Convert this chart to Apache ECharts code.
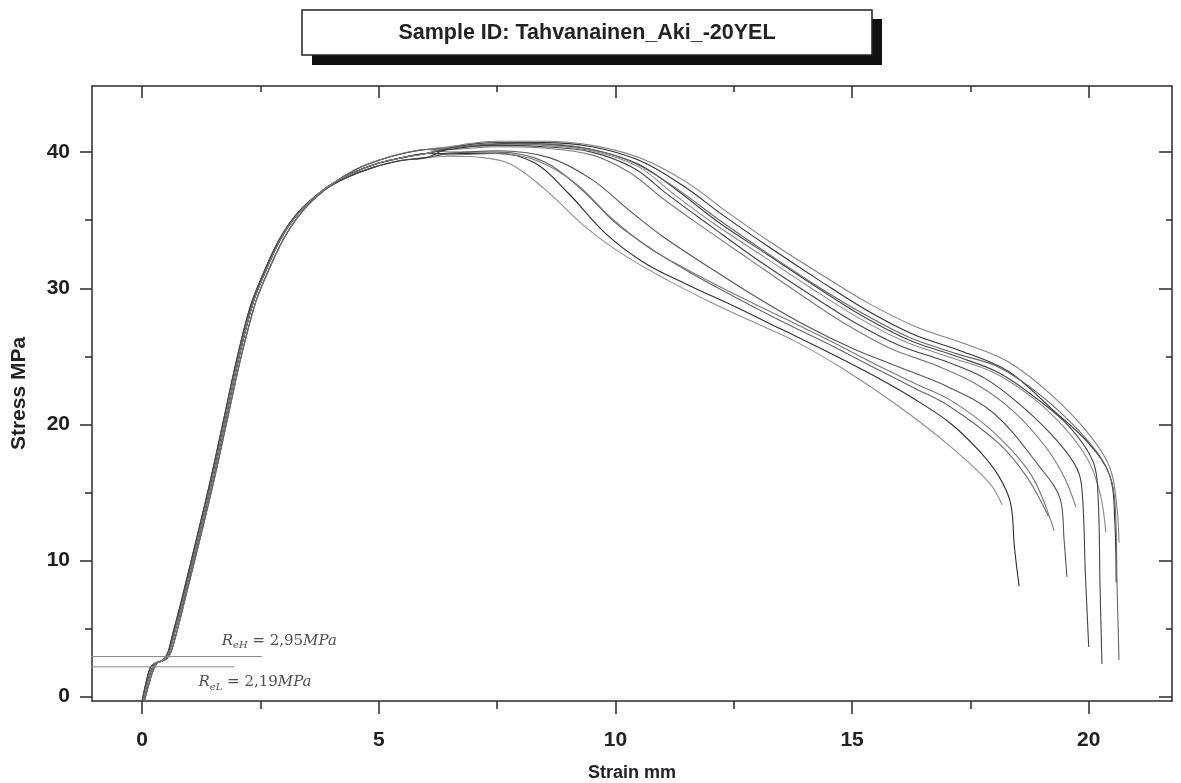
<!DOCTYPE html>
<html>
<head>
<meta charset="utf-8">
<style>
html, body { margin: 0; padding: 0; background: #fff; }
#chart { width: 1181px; height: 783px; }
</style>
<script src="https://cdn.jsdelivr.net/npm/echarts@6/dist/echarts.min.js"></script>
</head>
<body>
<div id="chart"></div>
<script>
// ticks and labels
const xMajor = [0, 5, 10, 15, 20]
const xMinor = [2.5, 7.5, 12.5, 17.5]
const yMajor = [0, 10, 20, 30, 40]
const yMinor = [5, 15, 25, 35]

// elastic part of the curves (three slightly shifted versions)
const riseA = [[0.02, -0.3], [0.1, 0.9], [0.2, 2.0], [0.28, 2.45], [0.4, 2.6], [0.5, 2.85], [0.58, 3.4], [0.7, 4.9], [0.86, 7.0], [1.2, 11.8], [1.5, 16.2], [1.8, 21.0], [2.05, 25.0], [2.34, 28.9], [2.6, 31.2], [2.97, 33.9], [3.4, 35.9], [3.9, 37.4], [4.4, 38.4], [5.0, 39.2], [5.5, 39.6], [6.0, 39.9]]
const riseB = [[0.05, -0.3], [0.14, 0.9], [0.24, 2.0], [0.33, 2.5], [0.45, 2.65], [0.55, 2.9], [0.63, 3.5], [0.75, 5.0], [0.9, 7.1], [1.25, 12.0], [1.55, 16.4], [1.85, 21.2], [2.1, 25.1], [2.4, 29.0], [2.68, 31.4], [3.05, 34.0], [3.5, 36.1], [4.0, 37.6], [4.5, 38.7], [5.0, 39.4], [5.5, 39.9], [6.0, 40.2]]
const riseC = [[0.0, -0.3], [0.08, 1.0], [0.17, 2.1], [0.25, 2.4], [0.36, 2.55], [0.47, 2.8], [0.55, 3.3], [0.66, 4.8], [0.82, 6.9], [1.15, 11.6], [1.45, 16.0], [1.75, 20.8], [2.0, 24.8], [2.28, 28.6], [2.55, 31.0], [2.9, 33.6], [3.3, 35.6], [3.8, 37.1], [4.3, 38.1], [4.9, 38.9], [5.5, 39.4], [6.0, 39.6]]

// necking / failure part of each specimen
const tailL1 = [[6.5, 39.7], [7.2, 39.6], [7.8, 39.1], [8.5, 37.3], [9.4, 34.4], [10.2, 32.4], [11.1, 30.6], [12.0, 29.0], [12.8, 27.7], [13.8, 26.1], [14.85, 24.0], [16.0, 21.3], [17.07, 18.4], [17.9, 15.7], [18.17, 14.1]]
const tailL2 = [[6.5, 39.9], [7.5, 39.9], [8.3, 39.2], [9.0, 37.0], [9.8, 34.0], [10.6, 31.9], [11.5, 30.3], [12.5, 28.7], [13.5, 27.0], [14.5, 25.3], [15.5, 23.5], [16.3, 21.9], [17.07, 20.1], [17.7, 18.0], [18.1, 16.2], [18.35, 14.2], [18.43, 11], [18.53, 8.1]]
const tailL3 = [[6.5, 40.0], [7.5, 40.0], [8.5, 39.3], [9.3, 37.2], [10.0, 34.8], [10.8, 32.8], [11.6, 31.1], [12.5, 29.4], [13.5, 27.6], [14.5, 25.9], [15.5, 24.1], [16.3, 22.7], [17.07, 21.3], [18.1, 18.6], [18.7, 16.1], [19.15, 13.25]]
const tailL4 = [[6.5, 39.8], [7.5, 39.9], [8.4, 39.3], [9.2, 37.6], [9.9, 35.2], [10.7, 33.0], [11.5, 31.4], [12.5, 29.6], [13.5, 27.9], [14.5, 26.2], [15.5, 24.4], [16.4, 22.9], [17.07, 21.8], [18.0, 19.4], [18.8, 16.2], [19.27, 12.2]]
const tailL5 = [[6.5, 39.9], [7.5, 40.1], [8.6, 39.6], [9.5, 38.0], [10.3, 35.7], [11.0, 33.8], [12.0, 31.5], [13.0, 29.3], [14.0, 27.3], [15.0, 25.6], [16.0, 24.2], [17.0, 22.8], [18.0, 20.8], [18.96, 16.9], [19.4, 14.5], [19.48, 11.5], [19.54, 8.8]]
const tailU1 = [[6.5, 40.2], [7.5, 40.4], [8.5, 40.3], [9.5, 39.8], [10.3, 38.5], [11.0, 36.6], [11.8, 34.6], [12.8, 32.2], [13.8, 29.8], [14.8, 27.5], [15.8, 25.6], [16.8, 24.3], [17.6, 23.0], [18.4, 21.0], [19.1, 18.3], [19.5, 16.0], [19.73, 13.9]]
const tailU2 = [[6.5, 40.3], [7.5, 40.5], [8.5, 40.4], [9.5, 40.0], [10.4, 38.8], [11.1, 36.9], [12.0, 34.6], [13.0, 32.1], [14.0, 29.8], [15.0, 27.6], [16.0, 25.8], [17.0, 24.6], [17.8, 23.4], [18.5, 21.6], [19.2, 19.3], [19.7, 17.1], [19.85, 15.5], [19.93, 9.0], [20.0, 3.65]]
const tailU3 = [[6.5, 40.4], [7.5, 40.6], [8.5, 40.5], [9.5, 40.1], [10.5, 38.9], [11.2, 37.0], [12.1, 34.7], [13.1, 32.4], [14.1, 30.1], [15.1, 27.9], [16.1, 26.1], [17.1, 24.9], [18.0, 23.8], [18.8, 22.0], [19.5, 19.7], [20.0, 17.3], [20.25, 14.8], [20.36, 12.1]]
const tailU4 = [[6.5, 40.3], [7.5, 40.7], [8.5, 40.6], [9.5, 40.2], [10.5, 39.1], [11.3, 37.2], [12.2, 34.8], [13.2, 32.5], [14.2, 30.2], [15.2, 28.0], [16.2, 26.2], [17.2, 25.0], [18.1, 23.8], [18.9, 21.9], [19.6, 19.8], [20.1, 17.2], [20.2, 14.5], [20.24, 8], [20.28, 2.4]]
const tailU5 = [[6.5, 40.2], [7.5, 40.6], [8.5, 40.7], [9.5, 40.4], [10.5, 39.4], [11.4, 37.6], [12.3, 35.3], [13.3, 32.9], [14.3, 30.6], [15.3, 28.4], [16.3, 26.6], [17.3, 25.4], [18.3, 23.9], [19.2, 21.2], [20.0, 18.6], [20.45, 16.2], [20.55, 13], [20.58, 8.4]]
const tailU6 = [[6.5, 40.3], [7.5, 40.6], [8.5, 40.6], [9.5, 40.2], [10.4, 39.2], [11.3, 37.3], [12.2, 35.0], [13.2, 32.6], [14.2, 30.3], [15.2, 28.2], [16.2, 26.4], [17.2, 25.2], [18.1, 24.2], [19.0, 22.1], [19.8, 19.5], [20.35, 17.0], [20.55, 14.5], [20.6, 8], [20.64, 2.7]]
const tailU7 = [[6.5, 40.4], [7.5, 40.8], [8.5, 40.8], [9.5, 40.5], [10.5, 39.6], [11.5, 37.8], [12.4, 35.5], [13.4, 33.1], [14.4, 30.9], [15.4, 28.8], [16.4, 27.1], [17.4, 25.9], [18.3, 24.6], [19.2, 22.2], [20.0, 19.3], [20.45, 16.8], [20.6, 13.8], [20.64, 11.3]]

// yield stresses
const reH = 2.95
const reL = 2.19
const reHSpan = [-1.36, 2.53]
const reLSpan = [-1.36, 1.94]

const curves = [
  { rise: riseC, tail: tailL1, color: '#8e8e8e' },
  { rise: riseA, tail: tailL2, color: '#2e2e2e' },
  { rise: riseB, tail: tailL3, color: '#666' },
  { rise: riseA, tail: tailL4, color: '#777' },
  { rise: riseC, tail: tailL5, color: '#555' },
  { rise: riseB, tail: tailU1, color: '#7a7a7a' },
  { rise: riseA, tail: tailU2, color: '#444' },
  { rise: riseB, tail: tailU3, color: '#888' },
  { rise: riseC, tail: tailU4, color: '#444' },
  { rise: riseA, tail: tailU5, color: '#333' },
  { rise: riseB, tail: tailU6, color: '#666' },
  { rise: riseA, tail: tailU7, color: '#808080' }
]

const chart = echarts.init(document.getElementById('chart'))

const xMin = -1.06, xMax = 21.76
const yMin = -0.32, yMax = 44.86
const axisColor = '#2a2a2a'
const labelFont = { fontFamily: 'Liberation Sans, Arial', fontWeight: 'bold', fontSize: 21, color: '#222' }

function tickAxis (pos, values, len, inside, showLine) {
  return {
    type: 'value',
    position: pos,
    min: pos === 'top' || pos === 'bottom' ? xMin : yMin,
    max: pos === 'top' || pos === 'bottom' ? xMax : yMax,
    axisLine: { show: !!showLine, onZero: false, lineStyle: { color: axisColor, width: 1.5 } },
    axisTick: { show: true, inside: inside, length: len, customValues: values, lineStyle: { color: axisColor, width: 1.5 } },
    axisLabel: { show: false },
    splitLine: { show: false }
  }
}

const lineSeries = curves.map(c => ({
  type: 'line',
  data: c.rise.concat(c.tail),
  symbol: 'none',
  smooth: 0.35,
  lineStyle: { color: c.color, width: 1.1 },
  silent: true
}))

chart.setOption({
  backgroundColor: '#fff',
  animation: false,
  grid: { left: 92, right: 9, top: 86, bottom: 82, containLabel: false, outerBoundsMode: 'none' },
  graphic: [
    { type: 'rect', shape: { x: 312, y: 19, width: 570, height: 46 }, style: { fill: '#111' } },
    { type: 'rect', shape: { x: 302, y: 10, width: 570, height: 45 }, style: { fill: '#fff', stroke: '#222', lineWidth: 1.5 } },
    {
      type: 'text', x: 587, y: 33,
      style: { text: 'Sample ID: Tahvanainen_Aki_-20YEL', fontFamily: 'Liberation Sans, Arial', fontWeight: 'bold', fontSize: 21.5, fill: '#222', align: 'center', verticalAlign: 'middle' }
    }
  ],
  xAxis: [
    {
      type: 'value', position: 'bottom', min: xMin, max: xMax,
      name: 'Strain mm', nameLocation: 'middle', nameGap: 63,
      nameTextStyle: { fontFamily: 'Liberation Sans, Arial', fontWeight: 'bold', fontSize: 18, color: '#222' },
      axisLine: { show: true, onZero: false, lineStyle: { color: axisColor, width: 1.5 } },
      axisTick: { show: true, length: 13, customValues: xMajor, lineStyle: { color: axisColor, width: 1.5 } },
      axisLabel: Object.assign({ customValues: xMajor, margin: 29 }, labelFont),
      splitLine: { show: false }
    },
    tickAxis('bottom', xMinor, 8, false),
    tickAxis('top', xMajor, 12, true, true),
    tickAxis('top', xMinor, 6, true)
  ],
  yAxis: [
    {
      type: 'value', position: 'left', min: yMin, max: yMax,
      name: 'Stress MPa', nameLocation: 'middle', nameGap: 62, nameRotate: 90,
      nameTextStyle: { fontFamily: 'Liberation Sans, Arial', fontWeight: 'bold', fontSize: 21, color: '#222' },
      axisLine: { show: true, onZero: false, lineStyle: { color: axisColor, width: 1.5 } },
      axisTick: { show: true, length: 12, customValues: yMajor, lineStyle: { color: axisColor, width: 1.5 } },
      axisLabel: Object.assign({ customValues: yMajor, margin: 22 }, labelFont),
      splitLine: { show: false }
    },
    tickAxis('left', yMinor, 7, false),
    tickAxis('right', yMajor, 13, true, true),
    tickAxis('right', yMinor, 6, true)
  ],
  series: lineSeries.concat([
    {
      type: 'line', data: [[reHSpan[0], reH], [reHSpan[1], reH]], symbol: 'none', clip: false,
      lineStyle: { color: '#8a8a8a', width: 1 }, silent: true
    },
    {
      type: 'line', data: [[reLSpan[0], reL], [reLSpan[1], reL]], symbol: 'none', clip: false,
      lineStyle: { color: '#8a8a8a', width: 1 }, silent: true
    },
    {
      type: 'scatter', symbolSize: 0, silent: true,
      data: [
        { value: [1.68, 4.1], label: { formatter: '{r|R}{s|eH}{n| = 2,95}{r|MPa}' } },
        { value: [1.19, 1.05], label: { formatter: '{r|R}{s|eL}{n| = 2,19}{r|MPa}' } }
      ],
      label: {
        show: true, position: 'right', distance: 0,
        rich: {
          r: { fontFamily: 'DejaVu Serif, Liberation Serif', fontStyle: 'italic', fontSize: 15, color: '#222', lineHeight: 20, verticalAlign: 'middle' },
          s: { fontFamily: 'DejaVu Serif, Liberation Serif', fontStyle: 'italic', fontSize: 10, color: '#222', lineHeight: 20, verticalAlign: 'bottom', padding: [7, 0, 0, 0] },
          n: { fontFamily: 'DejaVu Serif, Liberation Serif', fontSize: 15, color: '#222', lineHeight: 20, verticalAlign: 'middle' }
        }
      }
    }
  ])
})
</script>
</body>
</html>
